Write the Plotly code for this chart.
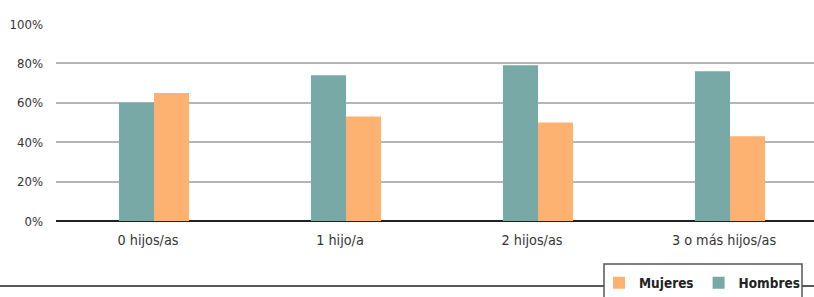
import plotly.graph_objects as go

categories = ["0 hijos/as", "1 hijo/a", "2 hijos/as", "3 o más hijos/as"]
hombres = [60, 74, 79, 76]
mujeres = [65, 53, 50, 43]
y_ticks = [0, 20, 40, 60, 80, 100]
y_tick_labels = ["0%", "20%", "40%", "60%", "80%", "100%"]

TEAL = "#77a9a6"
ORANGE = "#fdb271"
FONT = "DejaVu Sans Condensed, Liberation Sans Narrow, Arial Narrow, Liberation Sans, sans-serif"

fig = go.Figure()
fig.add_trace(go.Bar(name="Hombres", x=categories, y=hombres, marker=dict(color=TEAL, line=dict(width=0))))
fig.add_trace(go.Bar(name="Mujeres", x=categories, y=mujeres, marker=dict(color=ORANGE, line=dict(width=0))))

W, H = 814, 297
L, R, T, B = 56, 0, 24, 76
pw = W - L - R
ph = H - T - B

def px_x(p):
    return (p - L) / pw

def px_y(p):
    return (H - B - p) / ph

shapes = [
    # bottom rule
    dict(type="line", xref="paper", yref="paper", x0=px_x(0), x1=px_x(814), y0=px_y(286), y1=px_y(286),
         line=dict(color="#222222", width=1.5), layer="above"),
    # legend box
    dict(type="rect", xref="paper", yref="paper", x0=px_x(604), x1=px_x(802), y0=px_y(264), y1=px_y(310),
         line=dict(color="#555555", width=1.5), fillcolor="white", layer="above"),
]

fig.update_layout(
    width=W, height=H,
    margin=dict(l=L, r=R, t=T, b=B, pad=0, autoexpand=False),
    paper_bgcolor="white", plot_bgcolor="white",
    barmode="group", bargap=0.635, bargroupgap=0,
    font=dict(family=FONT, color="#333333"),
    showlegend=True,
    legend=dict(orientation="h", traceorder="reversed",
                xref="container", yref="container",
                x=599 / W, xanchor="left", y=(H - 283) / H, yanchor="middle",
                bgcolor="rgba(0,0,0,0)", borderwidth=0,
                font=dict(family=FONT, size=13.5, color="#222222", weight="bold"),
                itemwidth=30),
    shapes=shapes,
    xaxis=dict(type="category", range=[-0.5104, 3.4375], showgrid=False, showline=False,
               ticks="", tickfont=dict(size=14.3, color="#333333"), ticklabelshift=-6,
               ticklabelstandoff=9, zeroline=False, fixedrange=True),
    yaxis=dict(range=[0, 100], tickvals=y_ticks, ticktext=y_tick_labels,
               showgrid=True, gridcolor="#b5b5b5", gridwidth=2,
               zeroline=True, zerolinecolor="#222222", zerolinewidth=1.5,
               ticks="", ticklabelstandoff=12, tickfont=dict(size=13, color="#333333"),
               showline=False, fixedrange=True),
)

fig.write_html("out.html", config={"displayModeBar": False},
               post_script="document.body.style.margin='0';document.body.style.overflow='hidden';")
